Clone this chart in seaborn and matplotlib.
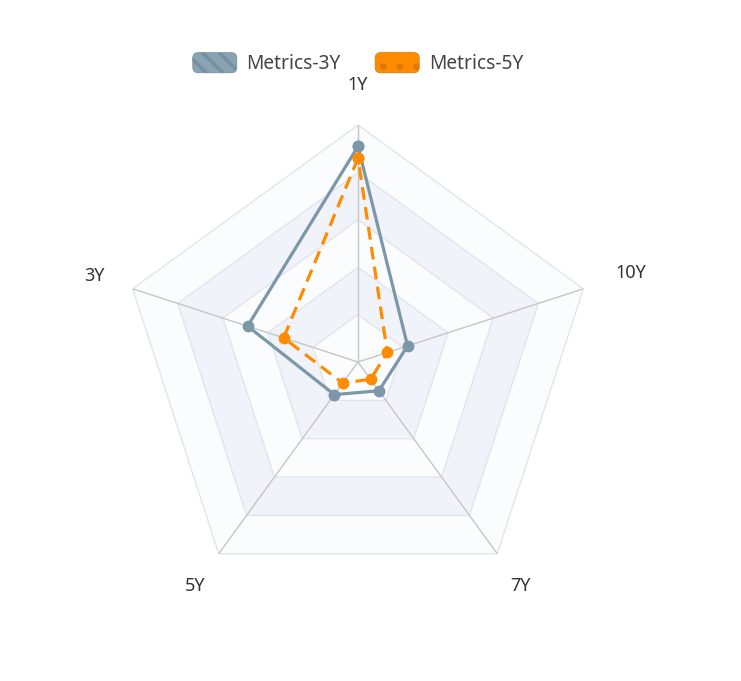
import numpy as np
import pandas as pd
import matplotlib
matplotlib.use("Agg")
import matplotlib.pyplot as plt
import matplotlib.patches as mpatches
from matplotlib.legend_handler import HandlerPatch
import seaborn as sns

# datos del radar (indicadores en sentido antihorario desde arriba)
indicators = ["1Y", "3Y", "5Y", "7Y", "10Y"]
metrics_3y = [91, 49, 17, 15, 22]
metrics_5y = [86, 33, 11, 9, 13]
max_value = 100
split_levels = [20, 40, 60, 80, 100]

sns.set_theme(style="white")
plt.rcParams["font.family"] = ["Noto Sans", "DejaVu Sans"]
plt.rcParams["hatch.linewidth"] = 2.5

n = len(indicators)
angles = np.linspace(0, 2 * np.pi, n, endpoint=False)
closed = np.append(angles, 2 * np.pi)

fig = plt.figure(figsize=(7.41, 6.81), dpi=100)
ax = fig.add_axes([0.1633, 0.1204, 0.6397, 0.696], projection="polar")
ax.set_theta_offset(np.pi / 2)
ax.set_ylim(0, max_value)
ax.grid(False)
ax.spines["polar"].set_visible(False)
ax.set_xticks([])
ax.set_yticks([])
ax.set_facecolor("none")

# bandas alternas de fondo (de fuera hacia dentro)
band_colors = ["#fbfcfe", "#f0f3f9"]
for i, lvl in enumerate(reversed(split_levels)):
    ax.fill(closed, [lvl] * (n + 1), color=band_colors[i % 2], lw=0, zorder=0)
for lvl in split_levels:
    ax.plot(closed, [lvl] * (n + 1), color="#e1e5ec", lw=1, zorder=1)
for a in angles:
    ax.plot([a, a], [0, max_value], color="#c6c6c6", lw=1, zorder=1)

# series
df3 = pd.DataFrame({"theta": closed, "value": metrics_3y + metrics_3y[:1]})
df5 = pd.DataFrame({"theta": closed, "value": metrics_5y + metrics_5y[:1]})
sns.lineplot(data=df3, x="theta", y="value", sort=False, estimator=None, ax=ax,
             color="#7b97a8", lw=2.3, marker="o", markersize=8.5,
             markeredgewidth=0, zorder=3)
sns.lineplot(data=df5, x="theta", y="value", sort=False, estimator=None, ax=ax,
             color="#ff8c00", lw=2.3, marker="o", markersize=8.5,
             markeredgewidth=0, dashes=(4, 2.3), zorder=4)
ax.set_xlabel("")
ax.set_ylabel("")
ax.set_ylim(0, max_value)

# nombres de los ejes
for a, name in zip(angles, indicators):
    r = 1.21 if name == "10Y" else 1.17
    ax.text(a, max_value * r, name, ha="center", va="center",
            fontsize=13, color="#333333")


# leyenda con cajas redondeadas
def rounded_box(legend, orig_handle, xdescent, ydescent, width, height, fontsize):
    return mpatches.FancyBboxPatch((-xdescent, -ydescent), width, height,
                                   boxstyle="round,pad=0,rounding_size=4")


h3 = mpatches.Patch(facecolor="#8aa3b3", edgecolor="#7590a1", hatch="\\\\", lw=0.5,
                    label="Metrics-3Y")
h5 = mpatches.Patch(facecolor="#ff8c00", edgecolor="#e07800", hatch=".", lw=0.5,
                    label="Metrics-5Y")
fig.legend(handles=[h3, h5], loc="center", bbox_to_anchor=(0.483, 0.907),
           ncol=2, frameon=False, fontsize=13.8, handlelength=2.3,
           handleheight=1.25, columnspacing=1.8, handletextpad=0.5,
           labelcolor="#444444",
           handler_map={mpatches.Patch: HandlerPatch(patch_func=rounded_box)})

fig.savefig("out.png", dpi=100, facecolor="white")
